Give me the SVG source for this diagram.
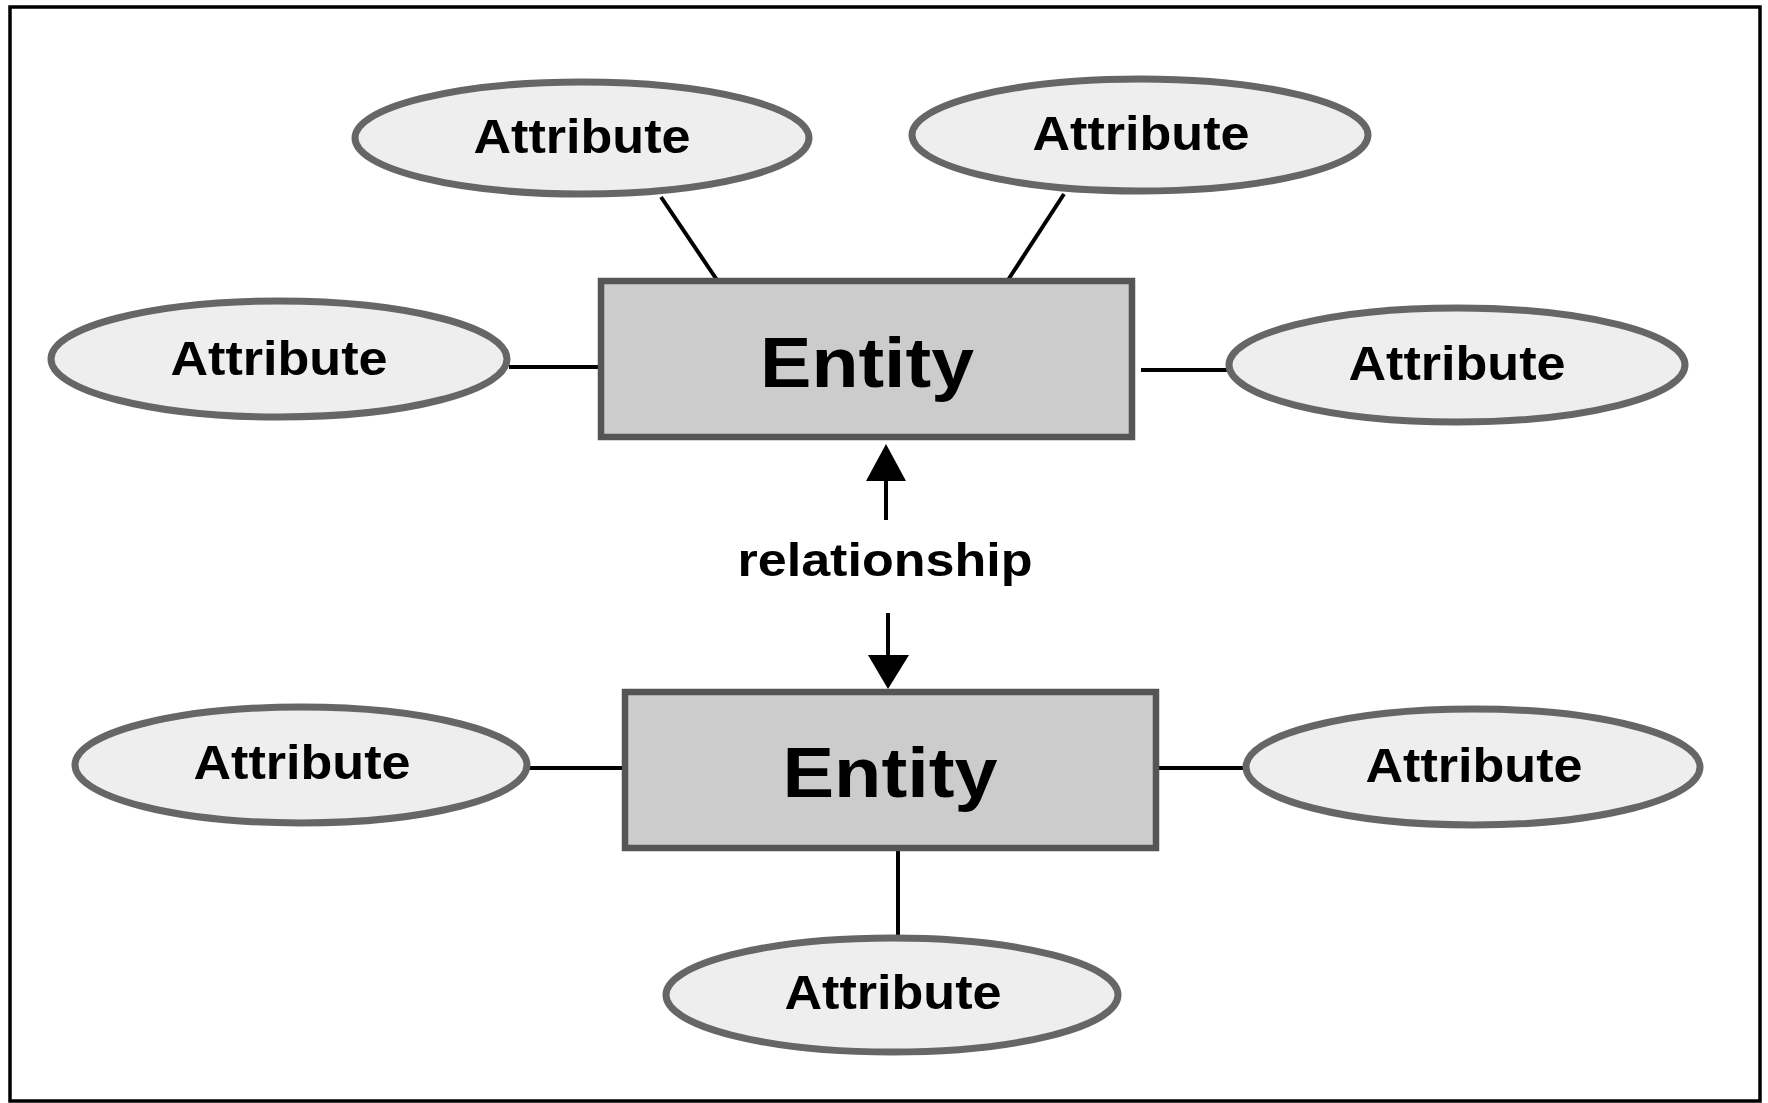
<svg xmlns="http://www.w3.org/2000/svg" width="1768" height="1103" viewBox="0 0 1768 1103">
<style>
.attr ellipse{fill:#eeeeee;stroke:#666666;stroke-width:7}
.ent rect{fill:#cccccc;stroke:#555555;stroke-width:6.5}
text{font-family:"Liberation Sans",Arial,sans-serif;font-weight:bold;fill:#000;text-anchor:middle}
.at{font-size:49px}
.et{font-size:71px}
.rt{font-size:47px}
.conn line{stroke:#000;stroke-width:4}
.conn polygon{fill:#000}
</style>
<rect x="10" y="7" width="1750" height="1094" fill="#ffffff" stroke="#000" stroke-width="3.5"/>
<g id="connectors" class="conn">
<line x1="661" y1="197" x2="717" y2="280"/>
<line x1="1064" y1="194" x2="1008" y2="280"/>
<line x1="509" y1="367" x2="601" y2="367"/>
<line x1="1141" y1="370" x2="1229" y2="370"/>
<line x1="527" y1="768" x2="625" y2="768"/>
<line x1="1156" y1="768" x2="1246" y2="768"/>
<line x1="898" y1="848" x2="898" y2="938"/>
<line x1="886" y1="520" x2="886" y2="475"/>
<polygon points="886,444 866,481 906,481"/>
<line x1="888" y1="613" x2="888" y2="660"/>
<polygon points="888,689 868,655 909,655"/>
</g>
<g id="entity1" class="ent">
<rect x="601" y="281" width="531" height="156"/>
<text class="et" x="867" y="387" textLength="214" lengthAdjust="spacingAndGlyphs">Entity</text>
</g>
<g id="entity2" class="ent">
<rect x="625" y="692" width="531" height="156"/>
<text class="et" x="890" y="797" textLength="215" lengthAdjust="spacingAndGlyphs">Entity</text>
</g>
<g id="relationship">
<text class="rt" x="885" y="576" textLength="295" lengthAdjust="spacingAndGlyphs">relationship</text>
</g>
<g id="attr1" class="attr">
<ellipse cx="582" cy="138" rx="227" ry="56"/>
<text class="at" x="582" y="153" textLength="217" lengthAdjust="spacingAndGlyphs">Attribute</text>
</g>
<g id="attr2" class="attr">
<ellipse cx="1140" cy="135" rx="228" ry="56"/>
<text class="at" x="1141" y="150" textLength="217" lengthAdjust="spacingAndGlyphs">Attribute</text>
</g>
<g id="attr3" class="attr">
<ellipse cx="279" cy="359" rx="228" ry="58"/>
<text class="at" x="279" y="375" textLength="217" lengthAdjust="spacingAndGlyphs">Attribute</text>
</g>
<g id="attr4" class="attr">
<ellipse cx="1457" cy="365" rx="228" ry="57"/>
<text class="at" x="1457" y="380" textLength="217" lengthAdjust="spacingAndGlyphs">Attribute</text>
</g>
<g id="attr5" class="attr">
<ellipse cx="301" cy="765" rx="226" ry="58"/>
<text class="at" x="302" y="779" textLength="217" lengthAdjust="spacingAndGlyphs">Attribute</text>
</g>
<g id="attr6" class="attr">
<ellipse cx="1473" cy="767" rx="227" ry="58"/>
<text class="at" x="1474" y="782" textLength="217" lengthAdjust="spacingAndGlyphs">Attribute</text>
</g>
<g id="attr7" class="attr">
<ellipse cx="892" cy="995" rx="226" ry="57"/>
<text class="at" x="893" y="1009" textLength="217" lengthAdjust="spacingAndGlyphs">Attribute</text>
</g>
</svg>
